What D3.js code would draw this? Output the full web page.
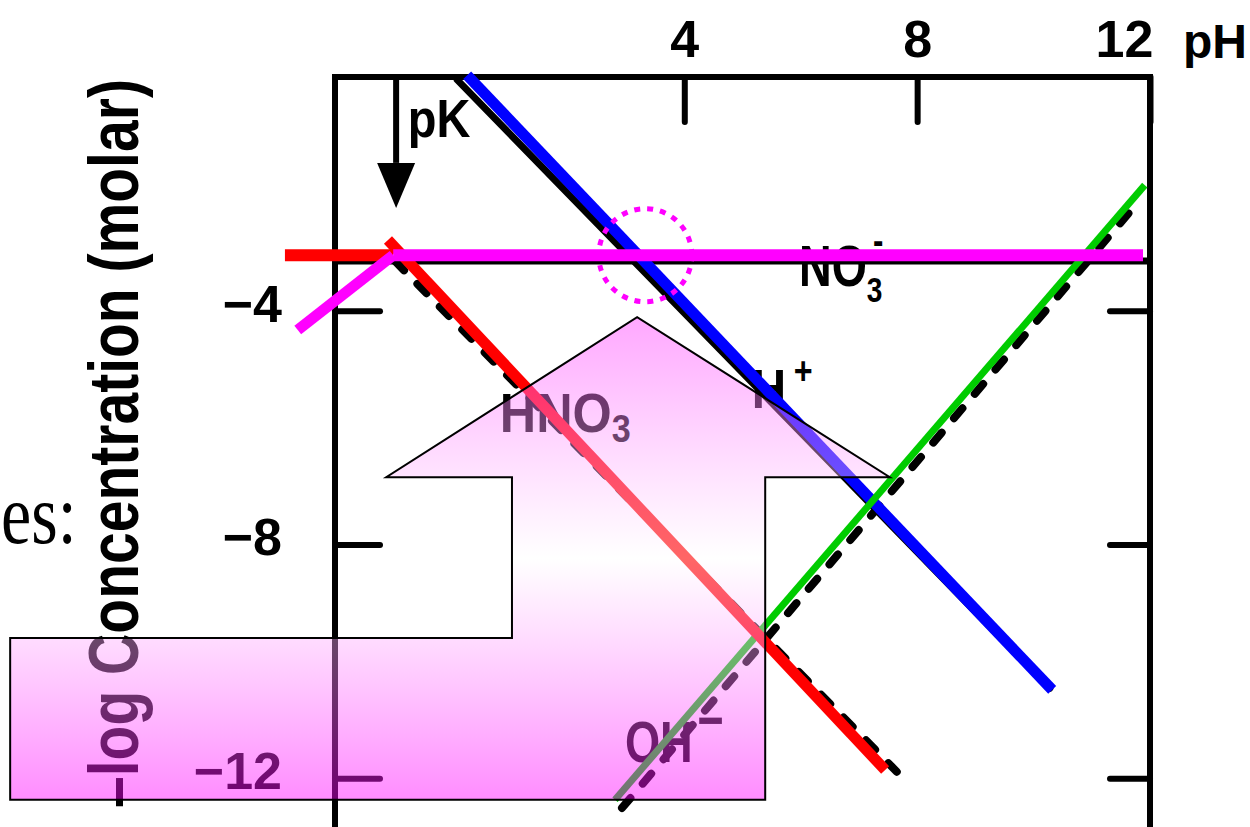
<!DOCTYPE html>
<html>
<head>
<meta charset="utf-8">
<script src="https://cdn.jsdelivr.net/npm/d3@7"></script>
<style>
  html, body { margin: 0; padding: 0; background: #fff; }
  svg { display: block; }
  .sans { font-family: "Liberation Sans", Arial, Helvetica, sans-serif; font-weight: bold; }
</style>
</head>
<body>
<svg id="chart" width="1250" height="827"></svg>
<script>
// Axes of the log C – pH diagram
const phDomain = [-2, 12];
const logDomain = [0, -14];
const phTicks = [4, 8, 12];
const logTicks = [-4, -8, -12];

// Printed species lines, [pH, log C]
const totalLine = [[-2, -3.15], [12, -3.15]];
const hno3Line = [[-0.97, -3.15], [7.65, -11.89]];
const hLine = [[0.10, -0.05], [10.28, -10.46]];
const ohLine = [[2.93, -12.51], [11.83, -2.10]];

// Colour highlights drawn over the printed lines, [pH, log C]
const hno3Flat = [[-2.86, -3.05], [-1.0, -3.05]];
const hno3Slope = [[-1.09, -2.79], [7.45, -11.86]];
const no3Rise = [[-2.64, -4.33], [-1.0, -3.05]];
const no3Flat = [[-1.0, -3.05], [11.88, -3.05]];
const hIon = [[0.27, 0.03], [10.32, -10.49]];
const ohIon = [[2.81, -12.37], [11.91, -1.85]];

// Acid constant marker and the crossing point that is circled
const pK = -0.95;
const crossing = [3.33, -3.05];

// Outline of the bent arrow, [pH, log C]
const arrowOutline = [
  [-7.58, -9.60], [1.04, -9.60], [1.04, -6.85], [-1.12, -6.85], [3.19, -4.11],
  [7.53, -6.85], [5.39, -6.85], [5.39, -12.37], [-7.58, -12.37]
];

const svg = d3.select("#chart");
const x = d3.scaleLinear().domain(phDomain).range([335, 1150]);
const y = d3.scaleLinear().domain(logDomain).range([77, 895]);
const line = d3.line().x(d => x(d[0])).y(d => y(d[1]));

// Fragment of slide text at the left edge
svg.append("text")
  .attr("transform", "translate(1,543) scale(0.8,1)")
  .attr("font-family", "'Liberation Serif', 'Times New Roman', serif")
  .attr("font-size", 85)
  .text("es:");

// Frame
svg.append("path")
  .attr("d", `M${x(-2)},${y(-14)}V${y(0)}H${x(12)}V${y(-14)}`)
  .attr("fill", "none").attr("stroke", "#000").attr("stroke-width", 6);

function styleAxis(g) {
  g.select(".domain").remove();
  g.attr("font-family", null).attr("font-size", null);
  g.selectAll(".tick line").attr("stroke", "#000").attr("stroke-width", 6).attr("stroke-linecap", "round");
  g.selectAll(".tick text").attr("class", "sans").attr("fill", "#000").attr("font-size", 52);
}

// Left axis with labels, ticks pointing inward
svg.append("g")
  .attr("transform", `translate(${x(-2)},0)`)
  .call(d3.axisLeft(y).tickValues(logTicks).tickSize(-45).tickPadding(53))
  .call(styleAxis)
  .call(g => g.selectAll(".tick text").attr("dy", "0.2em"));

// Right axis, ticks only
svg.append("g")
  .attr("transform", `translate(${x(12)},0)`)
  .call(d3.axisRight(y).tickValues(logTicks).tickSize(-40).tickFormat(() => ""))
  .call(styleAxis);

// Top pH axis
svg.append("g")
  .attr("transform", `translate(0,${y(0)})`)
  .call(d3.axisTop(x).tickValues(phTicks).tickSize(-45).tickPadding(20))
  .call(styleAxis)
  .call(g => g.selectAll(".tick").filter(d => d === 12).select("text").attr("dx", -26));

svg.append("text").attr("class", "sans")
  .attr("x", 1183).attr("y", 58).attr("font-size", 48)
  .text("pH");

// Vertical axis title
svg.append("text").attr("class", "sans")
  .attr("transform", "translate(138,808) rotate(-90) scale(0.815,1)")
  .attr("font-size", 70)
  .text("–log Concentration (molar)");

// Printed species lines
const ink = svg.append("g").attr("fill", "none").attr("stroke", "#000").attr("stroke-width", 7);
ink.append("path").attr("d", line(totalLine));
ink.append("path").attr("d", line(hLine)).attr("stroke-linecap", "round");
ink.append("path").attr("d", line(hno3Line)).attr("stroke-dasharray", "13,19").attr("stroke-linecap", "round").attr("stroke-width", 8);
ink.append("path").attr("d", line(ohLine)).attr("stroke-dasharray", "13,19").attr("stroke-linecap", "round").attr("stroke-width", 8);

// pK marker arrow
const pkX = x(pK);
svg.append("line")
  .attr("x1", pkX).attr("x2", pkX).attr("y1", y(0)).attr("y2", y(-1.47))
  .attr("stroke", "#000").attr("stroke-width", 6);
svg.append("path")
  .attr("d", `M${pkX - 19},${y(-1.47)}H${pkX + 19}L${pkX},${y(-2.24)}Z`)
  .attr("fill", "#000");

// Species labels
const labels = svg.append("g").attr("class", "sans").attr("fill", "#000");
function chemLabel(pH, logC, size, sx, parts) {
  const t = labels.append("text")
    .attr("transform", `translate(${x(pH)},${y(logC)}) scale(${sx},1)`)
    .attr("font-size", size);
  parts.forEach(p => {
    t.append("tspan")
      .attr("font-size", p.size || size)
      .attr("dx", p.dx || 0)
      .attr("dy", p.dy || 0)
      .text(p.text);
  });
}
chemLabel(-0.75, -1.03, 54, 0.87, [{ text: "pK" }]);
chemLabel(5.97, -3.58, 58, 0.78, [
  { text: "NO" },
  { text: "3", size: 36, dy: 16 },
  { text: "-", size: 40, dx: -12, dy: -48 }
]);
chemLabel(0.83, -6.08, 56, 0.9, [{ text: "HNO" }, { text: "3", size: 38, dy: 10 }]);
chemLabel(5.16, -5.66, 56, 0.85, [{ text: "H" }, { text: "+", size: 38, dx: 9, dy: -24 }]);
chemLabel(2.98, -11.72, 58, 0.78, [{ text: "OH" }, { text: "−", size: 58, dx: 6, dy: -22 }]);

// Colour highlights
const hi = svg.append("g").attr("fill", "none").attr("stroke-linecap", "butt");
hi.append("path").attr("d", line(hIon)).attr("stroke", "#0000ff").attr("stroke-width", 11);
hi.append("path").attr("d", line(ohIon)).attr("stroke", "#00cc00").attr("stroke-width", 7);
hi.append("path").attr("d", line(hno3Flat)).attr("stroke", "#ff0000").attr("stroke-width", 12);
hi.append("path").attr("d", line(hno3Slope)).attr("stroke", "#ff0000").attr("stroke-width", 11);
hi.append("path").attr("d", line(no3Rise)).attr("stroke", "#ff00ff").attr("stroke-width", 11);
hi.append("path").attr("d", line(no3Flat)).attr("stroke", "#ff00ff").attr("stroke-width", 12);

// Dotted ring around the H+ / NO3- crossing
svg.append("circle")
  .attr("cx", x(crossing[0])).attr("cy", y(crossing[1]))
  .attr("r", x(crossing[0] + 0.8) - x(crossing[0]))
  .attr("fill", "none").attr("stroke", "#ff00ff").attr("stroke-width", 5)
  .attr("stroke-dasharray", "6,7");

// Translucent bent arrow on top
const defs = svg.append("defs");
const grad = defs.append("linearGradient")
  .attr("id", "arrowFill")
  .attr("gradientUnits", "userSpaceOnUse")
  .attr("x1", 0).attr("x2", 0)
  .attr("y1", y(-4.11)).attr("y2", y(-12.37));
grad.append("stop").attr("offset", 0).attr("stop-color", "rgb(255,60,255)").attr("stop-opacity", 0.45);
grad.append("stop").attr("offset", 0.5).attr("stop-color", "#ffffff").attr("stop-opacity", 0.4);
grad.append("stop").attr("offset", 1).attr("stop-color", "rgb(255,0,255)").attr("stop-opacity", 0.45);

svg.append("path")
  .attr("d", line(arrowOutline) + "Z")
  .attr("fill", "url(#arrowFill)")
  .attr("stroke", "#000").attr("stroke-width", 2)
  .attr("stroke-linejoin", "miter");
</script>
</body>
</html>
